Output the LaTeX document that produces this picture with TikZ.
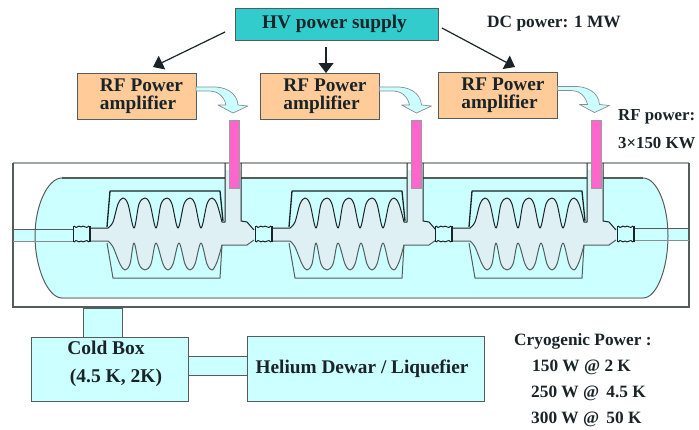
\documentclass[tikz,border=0pt]{standalone}
\usepackage{fontspec}
\setmainfont{Liberation Serif}
\usetikzlibrary{arrows.meta,calc}
\definecolor{cryo}{HTML}{CCFFFF}
\definecolor{cav}{HTML}{DFF0F4}
\definecolor{hvc}{HTML}{33CCCC}
\definecolor{amp}{HTML}{FFCC99}
\definecolor{pink}{HTML}{FF66CC}
\definecolor{ink}{HTML}{1A2428}
\definecolor{edge}{HTML}{555C5C}
\tikzset{
  lbl/.style={font=\bfseries\fontsize{17.3}{22}\selectfont,text=ink,inner sep=0pt},
  lblb/.style={font=\bfseries\fontsize{19.5}{22}\selectfont,text=ink,inner sep=0pt},
  box/.style={draw=edge,line width=1pt,inner sep=0pt,outer sep=0pt,align=left,font=\bfseries\fontsize{19.3}{18}\selectfont,text=ink},
  ampbox/.style={box,fill=amp,minimum width=119pt,minimum height=46pt},
  cryobox/.style={box,fill=cryo},
  feed/.style={draw=ink,line width=1.2pt,-{Triangle[width=15pt,length=10pt]}},
  fat/.style={fill=cryo,draw=edge!70,line width=0.7pt,line join=round},
  wall/.style={draw=ink,line width=1pt,line join=round},
  jacket/.style={draw=ink,line width=1pt,line join=round},
}
\newcommand{\flange}[1]{%
  \begin{scope}[xshift=#1pt]
    \fill[cryo] (73,228) rectangle (90,242);
    \draw[wall] (74,226) .. controls (77,230) and (78,224) .. (81,227) .. controls (84,224) and (86,230) .. (89,226);
    \draw[wall] (74,242) .. controls (77,238) and (78,244) .. (81,241) .. controls (84,244) and (86,238) .. (89,242);
    \draw[draw=ink,line width=1.3pt] (73.5,226) -- (73.5,242) (90,226) -- (90,242);
  \end{scope}}
\newcommand{\cavity}[1]{%
  \begin{scope}[xshift=#1pt]
    \fill[cav] (90,228) -- (108,228) -- plot[smooth,tension=0.55] coordinates {(108,228)(113,222)(118,204)(123,198)(128,204)(134,228)(139,204)(145,198)(150,204)(156,228)(161,204)(167,198)(172,204)(178,228)(184,204)(190,198)(195,204)(201,228)(207,204)(212,198)(217,204)(222,222)}
      -- (225,222) -- (225,170) -- (241,170) -- (241,222) -- (247,223) -- (254,231) -- (254,240) -- (247,245) -- (222,245)
      -- plot[smooth,tension=0.55] coordinates {(222,245)(217,262)(212,270)(207,264)(201,243)(195,264)(190,270)(185,264)(179,243)(173,264)(168,270)(163,264)(156,243)(151,264)(145,270)(139,264)(134,243)(130,264)(125,270)(120,264)(113,247)(108,241)}
      -- (90,241) -- cycle;
    \draw[wall] (90,228) -- (108,228) -- plot[smooth,tension=0.55] coordinates {(108,228)(113,222)(118,204)(123,198)(128,204)(134,228)(139,204)(145,198)(150,204)(156,228)(161,204)(167,198)(172,204)(178,228)(184,204)(190,198)(195,204)(201,228)(207,204)(212,198)(217,204)(222,222)} -- (225,222) -- (225,163);
    \draw[wall] (241,163) -- (241,221) -- (247,222) -- (254,230);
    \draw[wall,draw=edge] (254,240) -- (247,245) -- (222,245)
      -- plot[smooth,tension=0.55] coordinates {(222,245)(217,262)(212,270)(207,264)(201,243)(195,264)(190,270)(185,264)(179,243)(173,264)(168,270)(163,264)(156,243)(151,264)(145,270)(139,264)(134,243)(130,264)(125,270)(120,264)(113,247)(108,241)} -- (90,241);
    \draw[jacket,line width=1.3pt] (107,227) -- (110,191) -- (220,191) -- (223,221);
    \draw[jacket,draw=edge] (107,243) -- (113,278) -- (220,278) -- (222,245);
    \fill[pink,draw=edge!60,line width=0.5pt] (229,120) rectangle (239,188);
  \end{scope}}
\begin{document}
\begin{tikzpicture}[x=1pt,y=-1pt]
\useasboundingbox (0,0) rectangle (699,429);
\fill[cryo] (13,229) rectangle (689,241);
\draw[draw=edge!55,line width=1.2pt] (13,163) -- (689,163);
\draw[draw=edge,line width=1.3pt] (13,163) -- (13,307) -- (689,307) -- (689,163);
\fill[cryo] (62,178) .. controls (48,178) and (35,205) .. (35,236) .. controls (35,268) and (48,298) .. (62,298)
  -- (643,298) .. controls (657,298) and (668,268) .. (668,236) .. controls (668,205) and (657,178) .. (643,178) -- cycle;
\draw[draw=edge,line width=1pt] (62,178) .. controls (48,178) and (35,205) .. (35,236) .. controls (35,268) and (48,298) .. (62,298);
\draw[draw=edge,line width=1pt] (643,178) .. controls (657,178) and (668,205) .. (668,236) .. controls (668,268) and (657,298) .. (643,298);
\draw[draw=edge,line width=1.1pt] (62,178) -- (643,178);
\draw[draw=edge!50,line width=1.1pt] (62,298) -- (643,298);
\draw[draw=edge,line width=1pt] (13,229) -- (73,229);
\draw[draw=edge!70,line width=1pt] (13,241) -- (73,241);
\draw[draw=edge,line width=1pt] (632,228) -- (689,228);
\draw[draw=edge!70,line width=1pt] (632,240) -- (689,240);
\cavity{0}\cavity{182}\cavity{362}
\flange{0}\flange{182}\flange{362}\flange{544}
\node[box,fill=hvc,minimum width=203pt,minimum height=32pt] (hv) at (336.5,24) {HV power supply\hspace*{4pt}};
\node[ampbox] (rf1) at (136.5,96) {\hspace*{10pt}RF Power\\\hspace*{10pt}amplifier};
\node[ampbox] (rf2) at (320,96) {\hspace*{10pt}RF Power\\\hspace*{10pt}amplifier};
\node[ampbox] (rf3) at (498,95.5) {\hspace*{10pt}RF Power\\\hspace*{10pt}amplifier};
\coordinate (a1) at (225,32);
\coordinate (b1) at (153,67);
\coordinate (a2) at (326,47);
\coordinate (b2) at (326,73);
\coordinate (a3) at (442,28);
\coordinate (b3) at (515,67);
\draw[feed] (a1) -- (b1);
\draw[feed] (a2) -- (b2);
\draw[feed] (a3) -- (b3);
\foreach \n in {rf1,rf2,rf3}{
  \begin{scope}[shift={(\n.east)}]
    \path[fat] (0,-9) -- (14,-9) .. controls (30,-10) and (41,-3) .. (42,9) -- (52,10) -- (37,17) -- (22,9) -- (30,9) .. controls (28,-1) and (20,-5) .. (14,-5) -- (0,-5) -- cycle;
  \end{scope}}
\node[cryobox,minimum width=39pt,minimum height=29pt] (link) at (102.5,322.5) {};
\node[cryobox,minimum width=157pt,minimum height=64pt] (cold) at (109.5,369) {};
\node[cryobox,minimum width=59pt,minimum height=19pt] (pipe) at (217.5,365.5) {};
\node[cryobox,minimum width=237pt,minimum height=65pt] (dewar) at (365.5,368.5) {Helium Dewar / Liquefier\hspace*{7pt}};
\node[lblb] (cold1) at (106,348) {Cold Box};
\node[lblb] (cold2) at (116,378) {(4.5 K, 2K)};
\node[lbl,anchor=west] (dc) at (487,24) {DC power: 1 MW};
\node[lbl,anchor=west,font=\bfseries\fontsize{16.8}{20}\selectfont] (rfp) at (618,117) {RF power:};
\node[lbl,anchor=west,font=\bfseries\fontsize{16.8}{20}\selectfont] (rfk) at (618,143) {3×150 KW};
\node[lbl,anchor=west] (c0) at (514,341) {Cryogenic Power :};
\node[lbl,anchor=west] (c1) at (532,367) {150 W @ 2 K};
\node[lbl,anchor=west] (c2) at (531,393) {250 W @ \,4.5 K};
\node[lbl,anchor=west] (c3) at (531,419) {300 W @ \,50 K};
\end{tikzpicture}
\end{document}
